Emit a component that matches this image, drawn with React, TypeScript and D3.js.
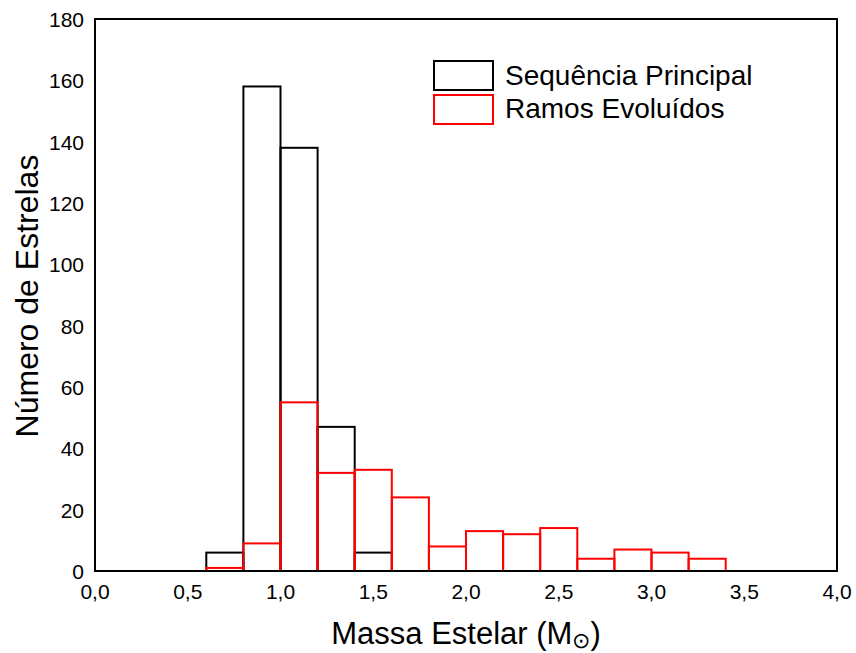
import React from "react";
import * as d3 from "d3";

const binStarts = [0.6, 0.8, 1.0, 1.2, 1.4, 1.6, 1.8, 2.0, 2.2, 2.4, 2.6, 2.8, 3.0, 3.2];
const binWidth = 0.2;
const sequenciaPrincipal = [6, 158, 138, 47, 6, 0, 0, 0, 0, 0, 0, 0, 0, 0];
const ramosEvoluidos = [1, 9, 55, 32, 33, 24, 8, 13, 12, 14, 4, 7, 6, 4];
const xTicks = [0, 0.5, 1.0, 1.5, 2.0, 2.5, 3.0, 3.5, 4.0];
const yTicks = [0, 20, 40, 60, 80, 100, 120, 140, 160, 180];

const W = 856;
const H = 653;
const left = 95;
const right = 837;
const top = 19;
const bottom = 571;
const font = "'Liberation Sans', Arial, sans-serif";

export default function App() {
  const x = d3.scaleLinear().domain([0, 4]).range([left, right]);
  const y = d3.scaleLinear().domain([0, 180]).range([bottom, top]);
  const fmt = (v: number) => v.toFixed(1).replace(".", ",");

  const bars = (vals: number[], color: string, key: string) =>
    vals.map((v, i) =>
      v > 0 ? (
        <rect
          key={key + i}
          x={x(binStarts[i])}
          y={y(v)}
          width={x(binStarts[i] + binWidth) - x(binStarts[i])}
          height={y(0) - y(v)}
          fill="none"
          stroke={color}
          strokeWidth={2}
        />
      ) : null
    );

  return (
    <svg width={W} height={H} style={{ position: "absolute", left: 0, top: 0 }} fontFamily={font}>
      <rect x={0} y={0} width={W} height={H} fill="white" />
      {bars(sequenciaPrincipal, "#000", "sp")}
      {bars(ramosEvoluidos, "#ff0000", "re")}
      <rect x={left} y={top} width={right - left} height={bottom - top} fill="none" stroke="#000" strokeWidth={2} />
      {xTicks.map((t) => (
        <text key={"x" + t} x={x(t)} y={599} textAnchor="middle" fontSize={21} fill="#000">
          {fmt(t)}
        </text>
      ))}
      {yTicks.map((t) => (
        <text key={"y" + t} x={84} y={y(t) + 8} textAnchor="end" fontSize={21} fill="#000">
          {t}
        </text>
      ))}
      <text x={(left + right) / 2} y={644} textAnchor="middle" fontSize={31} fill="#000">
        Massa Estelar (M<tspan fontSize={22} dy={4}>⊙</tspan><tspan dy={-4}>)</tspan>
      </text>
      <text
        transform={`translate(38, 296) rotate(-90)`}
        textAnchor="middle"
        fontSize={32}
        fill="#000"
      >
        Número de Estrelas
      </text>
      <rect x={434} y={61} width={59} height={29} fill="none" stroke="#000" strokeWidth={2} />
      <rect x={434} y={95} width={59} height={29} fill="none" stroke="#ff0000" strokeWidth={2} />
      <text x={505} y={85} fontSize={28} fill="#000">Sequência Principal</text>
      <text x={505} y={118} fontSize={28} fill="#000">Ramos Evoluídos</text>
    </svg>
  );
}
